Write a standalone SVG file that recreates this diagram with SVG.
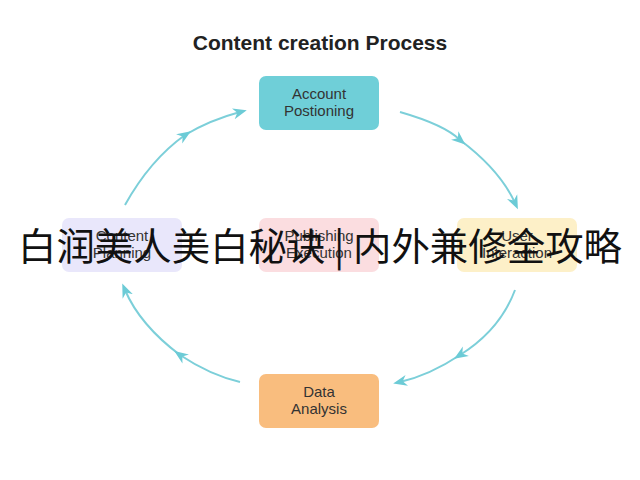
<svg xmlns="http://www.w3.org/2000/svg" width="640" height="480" viewBox="0 0 640 480">
<defs>
<marker id="ah" viewBox="0 0 10 10" refX="5" refY="5" markerWidth="7" markerHeight="7" orient="auto"><path d="M0,1 L10,5 L0,9 L3,5 Z" fill="#6ccbd6"/></marker>
<style>
.n text{font-family:"Liberation Sans",Arial,sans-serif;font-size:15px;text-anchor:middle;fill:#333}
.c path{fill:none;stroke:#7ccfd9;stroke-width:2;marker-mid:url(#ah);marker-end:url(#ah)}
</style>
</defs>
<rect width="640" height="480" fill="#fff"/>
<text x="320" y="50" font-family="Liberation Sans,Arial,sans-serif" font-weight="bold" font-size="21" text-anchor="middle" fill="#222">Content creation Process</text>
<g class="c">
<path d="M400,112 Q445,125 460,140 Q500,170 515,203"/>
<path d="M125,205 Q150,160 185,135 Q210,120 240,112"/>
<path d="M515,290 Q500,330 460,355 Q430,375 400,382"/>
<path d="M240,382 Q210,375 180,355 Q140,325 125,290"/>
</g>
<g id="account" class="n"><rect x="259" y="76" width="120" height="54" rx="7" fill="#6fcfd8"/><text x="319" y="99">Account</text><text x="319" y="116">Postioning</text></g>
<g id="content" class="n"><rect x="62" y="218" width="120" height="54" rx="7" fill="#e9e7fb"/><text x="122" y="241" fill="#aaa">Content</text><text x="122" y="258" fill="#aaa">Planning</text></g>
<g id="publishing" class="n"><rect x="259" y="218" width="120" height="54" rx="7" fill="#fbdde0"/><text x="319" y="241" fill="#aaa">Publishing</text><text x="319" y="258" fill="#aaa">Execution</text></g>
<g id="user" class="n"><rect x="457" y="218" width="120" height="54" rx="7" fill="#fdf0c8"/><text x="517" y="241" fill="#aaa">User</text><text x="517" y="258" fill="#aaa">Interaction</text></g>
<g id="data" class="n"><rect x="259" y="374" width="120" height="54" rx="7" fill="#f9bd7e"/><text x="319" y="397">Data</text><text x="319" y="414">Analysis</text></g>
<text x="320" y="260" font-family="Noto Sans CJK SC,sans-serif" font-size="38" text-anchor="middle" textLength="604" lengthAdjust="spacingAndGlyphs" fill="#111">白润美人美白秘诀 | 内外兼修全攻略</text>
</svg>
